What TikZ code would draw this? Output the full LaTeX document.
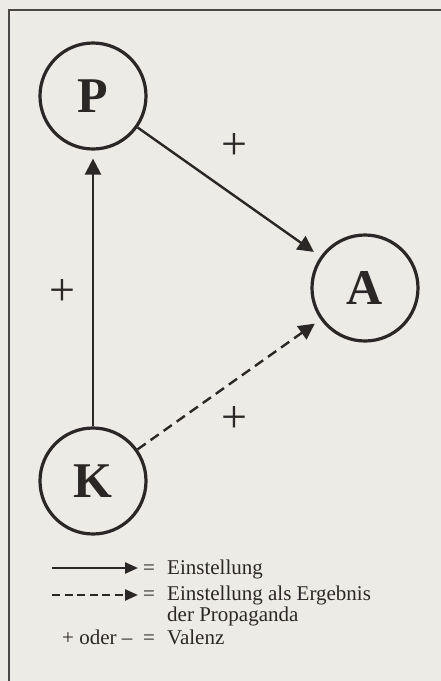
\documentclass[tikz,border=0pt]{standalone}
\usepackage{fontspec}
\setmainfont{Liberation Serif}
\newfontfamily\legfont{Liberation Serif}
\usetikzlibrary{arrows.meta}
\definecolor{ink}{HTML}{2B2727}
\definecolor{paper}{HTML}{ECEBE6}
\begin{document}
\begin{tikzpicture}[x=1pt,y=-1pt,
  state/.style={circle, draw=ink, line width=3.2pt, minimum size=106pt, inner sep=0pt,
    font=\fontsize{50}{50}\selectfont\bfseries, text=ink},
  link/.style={draw=ink, line width=2.4pt, -{Triangle[length=16pt,width=16pt]}},
  dlink/.style={link, dash pattern=on 10pt off 6pt},
  leglink/.style={draw=ink, line width=2.4pt, -{Triangle[length=13pt,width=11pt]}},
  legdash/.style={leglink, dash pattern=on 8pt off 4.5pt},
  sign/.style={font=\fontsize{46}{46}\selectfont, inner sep=0pt, text=ink},
  leg/.style={font=\legfont\fontsize{21}{21}\selectfont, anchor=base west, inner sep=0pt, text=ink}]
\fill[paper] (0,0) rectangle (441,681);
\useasboundingbox (0,0) rectangle (441,681);
\draw[ink!85, line width=1.4pt] (9,681) -- (9,10) -- (441,10);

\node[state] (P) at (93,96) {P};
\node[state] (A) at (365,288) {A};
\node[state] (K) at (93,481) {K};

\draw[link, shorten >=8pt] (K) -- (P);
\draw[link, shorten >=8pt] (P) -- (A);
\draw[dlink, shorten >=7pt] (K) -- (A);

\node[sign] (s1) at (234,147) {+};
\node[sign] (s2) at (62,293) {+};
\node[sign] (s3) at (234,419) {+};

% legend
\coordinate (l1a) at (52,568);
\coordinate (l1b) at (138,568);
\coordinate (l2a) at (52,595);
\coordinate (l2b) at (138,595);
\draw[leglink] (l1a) -- (l1b);
\draw[legdash] (l2a) -- (l2b);
\node[leg] (e1) at (143,574) {=};
\node[leg] (t1) at (167,574) {Einstellung};
\node[leg] (e2) at (143,600) {=};
\node[leg] (t2) at (167,600) {Einstellung als Ergebnis};
\node[leg] (t3) at (167,621) {der Propaganda};
\node[leg] (t4a) at (62,644) {+ oder –};
\node[leg] (e4) at (143,644) {=};
\node[leg] (t4) at (167,644) {Valenz};
\end{tikzpicture}
\end{document}
